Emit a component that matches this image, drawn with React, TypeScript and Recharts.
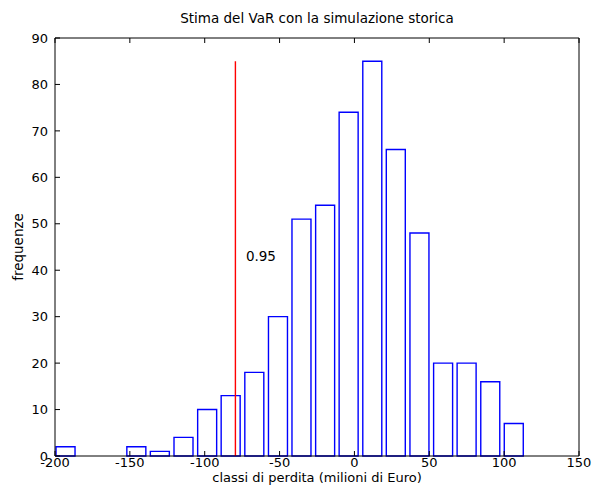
import { Bar, ComposedChart, ReferenceDot, ReferenceLine, XAxis, YAxis } from "recharts";

// istogramma delle perdite simulate (centri delle classi e frequenze)
const BIN_CENTERS = [
  -192.8, -177.0, -161.3, -145.5, -129.8, -114.0, -98.2, -82.5, -66.7, -50.9,
  -35.2, -19.4, -3.7, 12.1, 27.8, 43.6, 59.4, 75.1, 90.9, 106.6,
];
const FREQUENZE = [2, 0, 0, 2, 1, 4, 10, 13, 18, 30, 51, 54, 74, 85, 66, 48, 20, 20, 16, 7];

const X_TICKS = [-200, -150, -100, -50, 0, 50, 100, 150];
const Y_TICKS = [0, 10, 20, 30, 40, 50, 60, 70, 80, 90];

const VAR_X = -79.5;
const VAR_TOP = 85;
const VAR_TEXT = "0.95";
const VAR_TEXT_X = -72.5;
const VAR_TEXT_Y = 43;

const TITLE = "Stima del VaR con la simulazione storica";
const X_LABEL = "classi di perdita (milioni di Euro)";
const Y_LABEL = "frequenze";

const data = BIN_CENTERS.map((x, i) => ({ x, freq: FREQUENZE[i] }));

const FONT = "DejaVu Sans";
const TICK = { fill: "#000", fontSize: 13, fontFamily: FONT };
const BLANK = () => "";

export default function App() {
  return (
    <div style={{ position: "absolute", left: 0, top: 0, background: "#fff" }}>
      <ComposedChart
        width={592}
        height={487}
        data={data}
        margin={{ top: 37, right: 12, bottom: 0, left: 0 }}
        style={{ fontFamily: FONT }}
      >
        <XAxis
          dataKey="x"
          type="number"
          domain={[-200, 150]}
          ticks={X_TICKS}
          interval={0}
          allowDataOverflow
          height={31}
          stroke="#000"
          tickSize={-5}
          tickMargin={7}
          tick={TICK}
          label={{ value: X_LABEL, position: "insideBottom", offset: 5, fill: "#000", fontSize: 13, fontFamily: FONT }}
        />
        <XAxis
          xAxisId="top"
          orientation="top"
          dataKey="x"
          type="number"
          domain={[-200, 150]}
          ticks={X_TICKS}
          interval={0}
          allowDataOverflow
          height={1}
          stroke="#000"
          tickSize={-5}
          tickFormatter={BLANK}
          label={{
            content: () => (
              <text x={317} y={23} textAnchor="middle" fill="#000" fontSize={13.5} fontFamily={FONT}>
                {TITLE}
              </text>
            ),
          }}
        />
        <YAxis
          type="number"
          domain={[0, 90]}
          ticks={Y_TICKS}
          interval={0}
          width={55}
          stroke="#000"
          tickSize={-5}
          tickMargin={12}
          tick={TICK}
          label={{
            content: () => (
              <text
                x={18}
                y={247}
                transform="rotate(-90 18 247)"
                textAnchor="middle"
                dominantBaseline="central"
                fill="#000"
                fontSize={13.5}
                fontFamily={FONT}
              >
                {Y_LABEL}
              </text>
            ),
          }}
        />
        <YAxis
          yAxisId="right"
          orientation="right"
          type="number"
          domain={[0, 90]}
          ticks={Y_TICKS}
          interval={0}
          width={1}
          stroke="#000"
          tickSize={-5}
          tickFormatter={BLANK}
        />
        <Bar
          dataKey="freq"
          barSize={19}
          fill="none"
          stroke="#0000ff"
          strokeWidth={1.4}
          isAnimationActive={false}
        />
        <ReferenceLine
          segment={[
            { x: VAR_X, y: 0 },
            { x: VAR_X, y: VAR_TOP },
          ]}
          stroke="#ff0000"
          strokeWidth={1.4}
          strokeOpacity={1}
        />
        <ReferenceDot
          x={VAR_TEXT_X}
          y={VAR_TEXT_Y}
          r={0}
          fill="none"
          stroke="none"
          label={{ value: VAR_TEXT, position: "right", offset: 0, fill: "#000", fontSize: 13.5, fontFamily: FONT }}
        />
      </ComposedChart>
    </div>
  );
}
